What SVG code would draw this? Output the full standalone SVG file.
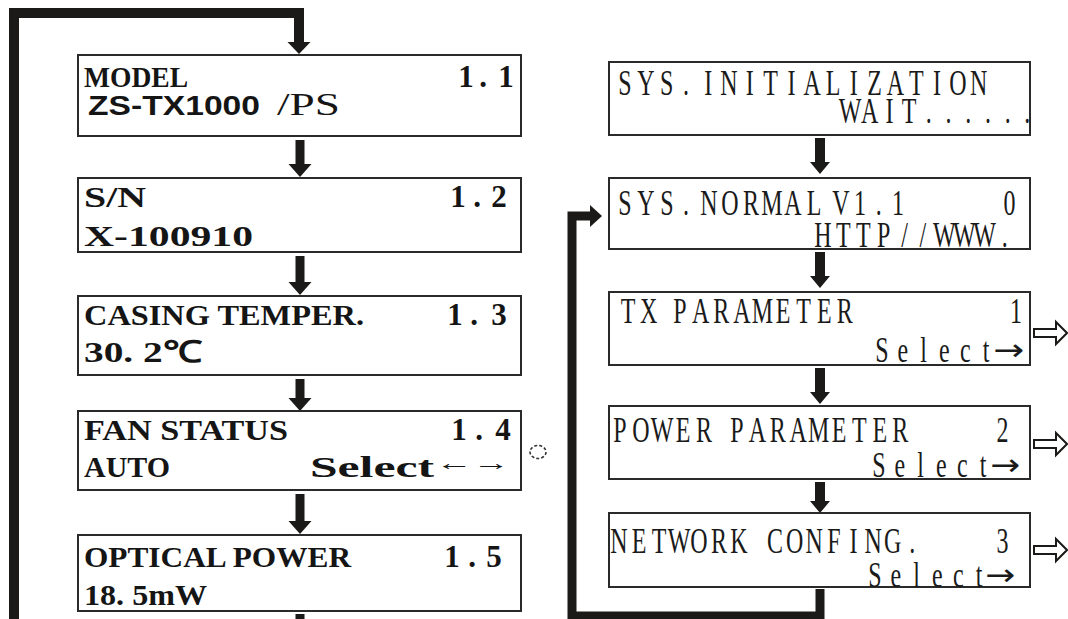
<svg xmlns="http://www.w3.org/2000/svg" width="1068" height="619" viewBox="0 0 1068 619">
<style>
.box{fill:#fff;stroke:#2a2a2a;stroke-width:2}
.lb{font-family:"Liberation Serif",serif;font-weight:bold;font-size:30px;fill:#151515}
.num{font-family:"Liberation Serif",serif;font-weight:bold;font-size:31px;fill:#151515;text-anchor:middle}
.ls{font-family:"Liberation Sans",sans-serif;font-weight:bold;font-size:28px;fill:#151515}
.lr{font-family:"Liberation Serif",serif;font-size:31px;fill:#151515}
.la{font-family:"Liberation Serif",serif;font-weight:bold;font-size:22px;fill:#151515}
.rt{font-family:"Liberation Serif",serif;font-size:36px;fill:#1a1a1a;text-anchor:middle}
.ra{font-family:"DejaVu Sans",sans-serif;font-size:30px;fill:#1a1a1a}
.loop{fill:none;stroke:#1c1a18;stroke-width:10;stroke-linejoin:miter}
.arr{fill:#1c1a18}
.hol{fill:#fff;stroke:#1c1a18;stroke-width:2;stroke-linejoin:miter}
</style>
<rect width="1068" height="619" fill="#fff"/>
<g id="connectors">
  <path class="loop" d="M14,619 V13 H299 V42"/>
  <polygon class="arr" points="287.5,42 310.5,42 299,54"/>
  <polygon class="arr" points="295.5,140 304.5,140 304.5,164 311.5,164 300,177 288.5,164 295.5,164"/>
  <polygon class="arr" points="295.5,256 304.5,256 304.5,282 311.5,282 300,295 288.5,282 295.5,282"/>
  <polygon class="arr" points="295.5,379 304.5,379 304.5,398 311.5,398 300,411 288.5,398 295.5,398"/>
  <polygon class="arr" points="295.5,494 304.5,494 304.5,521 311.5,521 300,534 288.5,521 295.5,521"/>
  <rect class="arr" x="295.5" y="614" width="9" height="5"/>
  <polygon class="arr" points="815,138 825,138 825,162 830,162 820,174 810,162 815,162"/>
  <polygon class="arr" points="815,252 825,252 825,276 830,276 820,288 810,276 815,276"/>
  <polygon class="arr" points="815,368 825,368 825,392 830,392 820,404 810,392 815,392"/>
  <polygon class="arr" points="815,482 825,482 825,501 830,501 820,513 810,501 815,501"/>
  <path class="loop" style="stroke-width:9" d="M820,589 V616 H572 V216 H591"/>
  <polygon class="arr" points="590,205 602,216 590,227"/>
  <polygon class="hol" points="1034,329 1056,329 1056,322 1067,333 1056,344 1056,337 1034,337"/>
  <polygon class="hol" points="1034,440 1056,440 1056,433 1067,444 1056,455 1056,448 1034,448"/>
  <polygon class="hol" points="1034,546 1056,546 1056,539 1067,550 1056,561 1056,554 1034,554"/>
</g>
<g id="model">
  <rect class="box" x="78" y="55" width="443" height="81"/>
  <text class="lb" x="84" y="87" textLength="104" lengthAdjust="spacingAndGlyphs">MODEL</text>
  <text class="num" x="466 483 506" y="87">1.1</text>
  <text class="ls" x="88" y="115" textLength="172" lengthAdjust="spacingAndGlyphs">ZS-TX1000</text>
  <text class="lr" x="277" y="115" textLength="63" lengthAdjust="spacingAndGlyphs">/PS</text>
</g>
<g id="sn">
  <rect class="box" x="78" y="178" width="443" height="74"/>
  <text class="lb" x="84" y="207" textLength="62" lengthAdjust="spacingAndGlyphs">S/N</text>
  <text class="num" x="458 477 499" y="207">1.2</text>
  <text class="lb" x="84" y="246" textLength="169" lengthAdjust="spacingAndGlyphs">X-100910</text>
</g>
<g id="casing">
  <rect class="box" x="78" y="296" width="443" height="79"/>
  <text class="lb" x="84" y="325" textLength="280" lengthAdjust="spacingAndGlyphs">CASING TEMPER.</text>
  <text class="num" x="455 474 499" y="325">1.3</text>
  <text class="lb" x="84" y="362" textLength="118" lengthAdjust="spacingAndGlyphs">30. 2℃</text>
</g>
<g id="fan">
  <rect class="box" x="78" y="411" width="443" height="79"/>
  <text class="lb" x="84" y="440" textLength="204" lengthAdjust="spacingAndGlyphs">FAN STATUS</text>
  <text class="num" x="459 479 503" y="440">1.4</text>
  <text class="lb" x="84" y="477" textLength="86" lengthAdjust="spacingAndGlyphs">AUTO</text>
  <text class="lb" x="310" y="477" textLength="124" lengthAdjust="spacingAndGlyphs">Select</text>
  <text class="la" x="436" y="470" textLength="74" lengthAdjust="spacingAndGlyphs">←→</text>
  <g fill="none" stroke="#333" stroke-width="1.6">
    <ellipse cx="538" cy="452" rx="8" ry="6.5" stroke-dasharray="3 2"/>
  </g>
</g>
<g id="optical">
  <rect class="box" x="78" y="535" width="443" height="76"/>
  <text class="lb" x="84" y="567" textLength="267" lengthAdjust="spacingAndGlyphs">OPTICAL POWER</text>
  <text class="num" x="452 472 494" y="567">1.5</text>
  <text class="lb" x="84" y="605" textLength="123" lengthAdjust="spacingAndGlyphs">18. 5mW</text>
</g>
<g id="init">
  <rect class="box" x="609" y="62" width="421" height="73"/>
  <text class="rt" transform="scale(0.6667,1)" y="95" x="937.5 968.7 999.9 1029 1029 1062.3 1093.5 1124.7 1155.9 1187.1 1218.3 1249.5 1280.7 1311.9 1343.1 1374.3 1405.5 1436.7 1467.9">SYS. INITIALIZATION</text>
  <text class="rt" transform="scale(0.6667,1)" y="123" x="1275 1304.6 1334.1 1363.7 1393.2 1422.8 1452.3 1481.9 1511.4 1541">WAIT......</text>
</g>
<g id="normal">
  <rect class="box" x="609" y="178" width="421" height="71"/>
  <text class="rt" transform="scale(0.6667,1)" y="215" x="937.5 969 1000.5 1029 1029 1063.5 1095 1126.5 1158 1189.5 1221 1230 1261.5 1290 1318 1347">SYS. NORMAL V1.1</text>
  <text class="rt" transform="scale(0.6667,1)" y="215" x="1514.3">0</text>
  <text class="rt" transform="scale(0.6667,1)" y="247" x="1234.5 1264.8 1295.1 1325.4 1357 1384 1416.3 1446.6 1476.9 1507.2">HTTP//WWW.</text>
</g>
<g id="tx">
  <rect class="box" x="609" y="292" width="421" height="73"/>
  <text class="rt" transform="scale(0.6667,1)" y="323" x="942 972.8 996 1020 1050.9 1081.8 1112.7 1143.6 1174.5 1205.4 1236.3 1267.2">TX PARAMETER</text>
  <text class="rt" transform="scale(0.6667,1)" y="323" x="1524">1</text>
  <text class="rt" transform="scale(0.6667,1)" y="362" x="1323 1354.2 1385.4 1416.6 1447.8 1479">Select</text>
  <text class="ra" x="993" y="360" textLength="31" lengthAdjust="spacingAndGlyphs">→</text>
</g>
<g id="power">
  <rect class="box" x="609" y="406" width="421" height="73"/>
  <text class="rt" transform="scale(0.6667,1)" y="442" x="930 961.5 993 1024.5 1056 1080 1105.5 1136.1 1166.7 1197.3 1227.9 1258.5 1289.1 1319.7 1350.3">POWER PARAMETER</text>
  <text class="rt" transform="scale(0.6667,1)" y="442" x="1503.8">2</text>
  <text class="rt" transform="scale(0.6667,1)" y="477" x="1318.5 1349.7 1380.9 1412.1 1443.3 1474.5">Select</text>
  <text class="ra" x="990" y="475" textLength="30" lengthAdjust="spacingAndGlyphs">→</text>
</g>
<g id="network">
  <rect class="box" x="609" y="513" width="421" height="74"/>
  <text class="rt" transform="scale(0.6667,1)" y="553" x="928.5 958.5 988.5 1018.5 1048.5 1078.5 1108.5 1135.5 1162.5 1191.9 1221.3 1250.7 1280.1 1309.5 1338.9 1368.3">NETWORK CONFING.</text>
  <text class="rt" transform="scale(0.6667,1)" y="553" x="1503.8">3</text>
  <text class="rt" transform="scale(0.6667,1)" y="587" x="1312.5 1343.7 1374.9 1406.1 1437.3 1468.5">Select</text>
  <text class="ra" x="985" y="585" textLength="30" lengthAdjust="spacingAndGlyphs">→</text>
</g>
</svg>
